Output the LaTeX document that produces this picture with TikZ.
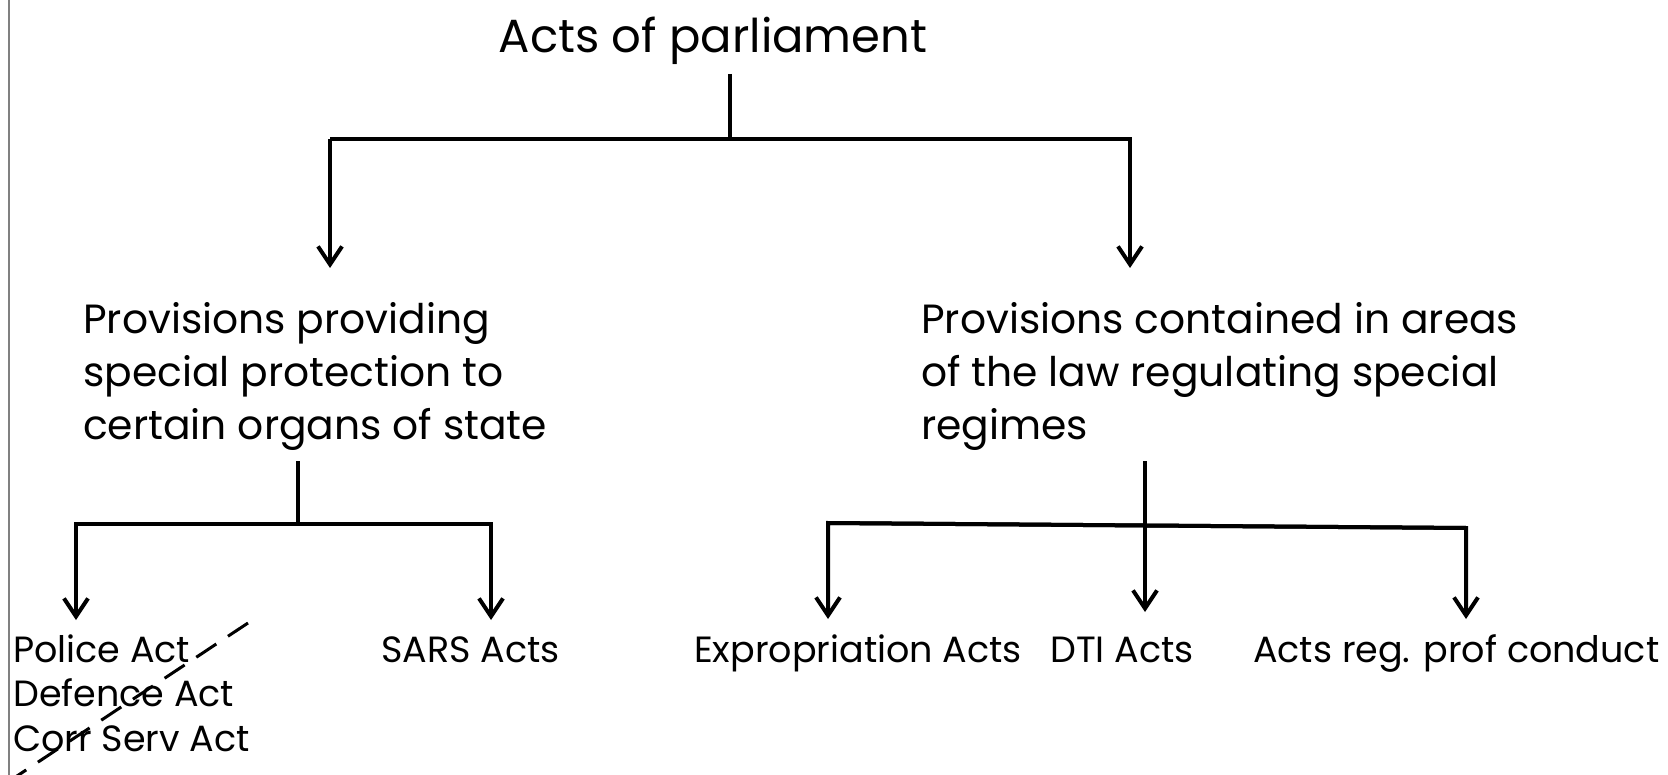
\documentclass[tikz,border=0pt]{standalone}
\usepackage{fontspec}
\setmainfont{Poppins}
\usetikzlibrary{arrows.meta}
\begin{document}
\begin{tikzpicture}[x=1pt,y=-1pt,
  conn/.style={line width=4.5pt},
  arr/.style={line width=4pt,-{Straight Barb[length=18pt,width=24pt,line width=4pt]}},
  toptext/.style={font=\fontsize{46.5}{52}\selectfont,anchor=base,inner sep=0pt},
  midtext/.style={font=\fontsize{40.8}{53}\selectfont,anchor=base west,inner sep=0pt,align=left},
  lowtext/.style={font=\fontsize{36.5}{44.5}\selectfont,anchor=base west,inner sep=0pt,align=left}]
\useasboundingbox (0,0) rectangle (1668,775);
\draw[gray,line width=1.2pt] (9,0) -- (9,775);
% texts
\node[toptext] (top) at (713,53) {Acts of parliament};
\node[midtext] (left) at (83,439) {Provisions providing\\special protection to\\certain organs of state};
\node[midtext] (right) at (921,439) {Provisions contained in areas\\of the law regulating special\\regimes};
\node[lowtext] (police) at (13,751) {Police Act\\Defence Act\\Corr Serv Act};
\node[lowtext] (sars) at (381,662) {SARS Acts};
\node[lowtext] (expr) at (694,662) {Expropriation Acts};
\node[lowtext] (dti) at (1050,662) {DTI Acts};
\node[lowtext] (prof) at (1253,662) {Acts reg. prof conduct};
% coordinates
\coordinate (s0a) at (730,74); \coordinate (s0b) at (730,139);
\coordinate (b0l) at (330,139); \coordinate (b0r) at (1130,139);
\coordinate (t0l) at (330,268); \coordinate (t0r) at (1130,268);
\coordinate (s1a) at (298,461); \coordinate (s1b) at (298,524);
\coordinate (b1l) at (76,524); \coordinate (b1r) at (491,524);
\coordinate (t1l) at (76,620); \coordinate (t1r) at (491,620);
\coordinate (s2a) at (1145,461); \coordinate (t2m) at (1145,612);
\coordinate (b2l) at (828,523); \coordinate (b2r) at (1466,528);
\coordinate (t2l) at (828,619); \coordinate (t2r) at (1466,619);
\coordinate (d1) at (248,623); \coordinate (d2) at (14,778);
% connectors
\draw[conn] (s0a) -- (s0b);
\draw[arr] (t0l |- s0b) -- (b0r) -- (t0r);
\draw[arr] (b0l) -- (t0l);
\draw[conn] (s1a) -- (s1b);
\draw[arr] (b1r) -- (b1l) -- (t1l);
\draw[arr] (b1l) -- (b1r) -- (t1r);
\draw[arr] (s2a) -- (t2m);
\draw[arr] (b2r) -- (b2l) -- (t2l);
\draw[arr] (b2l) -- (b2r) -- (t2r);
\draw[line width=3pt,dash pattern=on 24pt off 14pt] (d1) -- (d2);
\end{tikzpicture}
\end{document}
